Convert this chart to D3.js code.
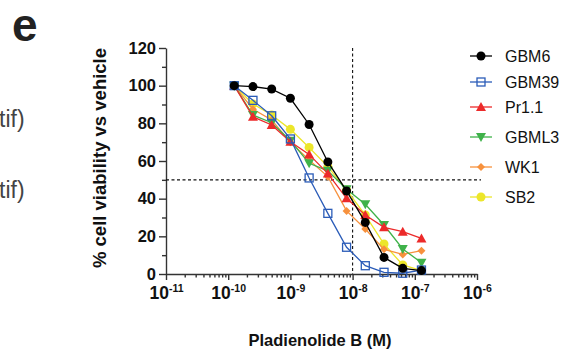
<!DOCTYPE html>
<html>
<head>
<meta charset="UTF-8">
<style>
  body { margin: 0; background: #fff; }
  svg { display: block; font-family: "Liberation Sans", Arial, sans-serif; }
  .axis path, .axis line { stroke: #333; stroke-width: 1.4px; }
  .axis text { fill: #111; font-weight: bold; }
</style>
</head>
<body>
<svg></svg>
<script src="https://cdn.jsdelivr.net/npm/d3@7"></script>
<script>

// doses (M), 2-fold dilution series
const doses = [1.25e-10, 2.5e-10, 5e-10, 1e-9, 2e-9, 4e-9, 8e-9, 1.6e-8, 3.2e-8, 6.4e-8, 1.28e-7];

const gbm6  = [100, 99.5, 98.2, 93.3, 79.4, 59.5, 44.1, 27.4, 8.8, 3.0, 1.8];
const gbm39 = [100, 92.2, 84.0, 71.7, 51.0, 32.2, 14.2, 4.4, 0.9, 0.4, 2.1];
const pr11  = [100, 83.5, 79.1, 70.2, 63.5, 53.3, 40.2, 31.3, 24.8, 22.5, 18.9];
const gbml3 = [100, 84.4, 80.3, 70.8, 58.8, 54.8, 45.0, 37.0, 26.0, 13.3, 6.0];
const wk1   = [100, 87.5, 81.8, 70.0, 60.5, 51.7, 33.5, 23.9, 13.1, 10.4, 12.4];
const sb2   = [100, 90.3, 84.4, 76.8, 67.2, 57.0, 44.6, 31.3, 15.9, 4.8, 1.8];

const seriesNames = ["GBM6", "GBM39", "Pr1.1", "GBML3", "WK1", "SB2"];
const seriesValues = [gbm6, gbm39, pr11, gbml3, wk1, sb2];
const seriesColors = ["#000000", "#2b5cb8", "#ec2a2a", "#3fb24a", "#f7913d", "#ece62a"];
const seriesSymbols = ["circle", "square", "triUp", "triDown", "diamond", "circle"];

const xDecades = [-11, -10, -9, -8, -7, -6];
const yTicks = [0, 20, 40, 60, 80, 100, 120];
const yMinor = [10, 30, 50, 70, 90, 110];
const ic50Line = 50;
const ic50Dose = 1e-8;

const width = 571, height = 354;
const svg = d3.select("svg").attr("width", width).attr("height", height);

const x = d3.scaleLog().domain([1e-11, 1e-6]).range([166, 477]);
const y = d3.scaleLinear().domain([0, 120]).range([274, 48]);

// panel letter + cut-off neighbour text
svg.append("text").attr("x", 12).attr("y", 41)
  .attr("font-size", 46).attr("font-weight", "bold").attr("fill", "#222").text("e");
svg.append("text").attr("x", -1).attr("y", 127)
  .attr("font-size", 23).attr("fill", "#444").text("tif)");
svg.append("text").attr("x", -1).attr("y", 198)
  .attr("font-size", 23).attr("fill", "#444").text("tif)");

// y axis
svg.append("g").attr("class", "axis")
  .attr("transform", "translate(166,0)")
  .call(d3.axisLeft(y).tickValues(yMinor).tickSize(4).tickFormat(""))
  .call(g => g.select(".domain").remove());
svg.append("g").attr("class", "axis")
  .attr("transform", "translate(166,0)")
  .call(d3.axisLeft(y).tickValues(yTicks).tickSize(7).tickSizeOuter(0).tickPadding(3))
  .call(g => g.selectAll("text").attr("font-size", 16.5));

// x axis
const minor = x.ticks().filter(v => Math.abs(Math.log10(v) - Math.round(Math.log10(v))) > 1e-6);
svg.append("g").attr("class", "axis")
  .attr("transform", "translate(0,274)")
  .call(d3.axisBottom(x).tickValues(minor).tickSize(3.5).tickFormat(""))
  .call(g => g.select(".domain").remove());
const xMajor = svg.append("g").attr("class", "axis")
  .attr("transform", "translate(0,274)")
  .call(d3.axisBottom(x).tickValues(xDecades.map(p => Math.pow(10, p))).tickSize(6).tickSizeOuter(0).tickFormat(""));
xMajor.selectAll(".tick").each(function(d) {
  const t = d3.select(this).append("text")
    .attr("y", 25).attr("text-anchor", "middle").attr("font-size", 17.5).attr("fill", "#111");
  t.append("tspan").text("10");
  t.append("tspan").attr("font-size", 10.5).attr("dy", -7.5).text(Math.round(Math.log10(d)));
});

// axis titles
svg.append("text")
  .attr("transform", "translate(106,158) rotate(-90)")
  .attr("text-anchor", "middle").attr("font-size", 18.5).attr("font-weight", "bold").attr("fill", "#111")
  .text("% cell viability vs vehicle");
svg.append("text").attr("x", 320).attr("y", 346)
  .attr("text-anchor", "middle").attr("font-size", 16.5).attr("font-weight", "bold").attr("fill", "#111")
  .text("Pladienolide B (M)");

// reference dashed lines
svg.append("line")
  .attr("x1", x(1e-11)).attr("x2", 481).attr("y1", y(ic50Line)).attr("y2", y(ic50Line))
  .attr("stroke", "#111").attr("stroke-width", 1.1).attr("stroke-dasharray", "3,2.5");
svg.append("line")
  .attr("x1", x(ic50Dose)).attr("x2", x(ic50Dose)).attr("y1", y(120)).attr("y2", y(0))
  .attr("stroke", "#111").attr("stroke-width", 1.1).attr("stroke-dasharray", "3,2.5");

function drawMarker(g, type, color, cx, cy) {
  if (type === "circle") {
    g.append("circle").attr("cx", cx).attr("cy", cy).attr("r", 4.5).attr("fill", color);
  } else if (type === "square") {
    g.append("rect").attr("x", cx - 4).attr("y", cy - 4).attr("width", 8).attr("height", 8)
      .attr("fill", "none").attr("stroke", color).attr("stroke-width", 1.3);
  } else if (type === "triUp") {
    g.append("path").attr("d", `M${cx},${cy - 5}L${cx + 5},${cy + 4}L${cx - 5},${cy + 4}Z`).attr("fill", color);
  } else if (type === "triDown") {
    g.append("path").attr("d", `M${cx},${cy + 5}L${cx + 5},${cy - 4}L${cx - 5},${cy - 4}Z`).attr("fill", color);
  } else if (type === "diamond") {
    g.append("path").attr("d", `M${cx},${cy - 4}L${cx + 4},${cy}L${cx},${cy + 4}L${cx - 4},${cy}Z`).attr("fill", color);
  }
}

const line = d3.line().x((d, i) => x(doses[i])).y(d => y(d));

// draw reversed so GBM6 ends on top
for (let s = seriesNames.length - 1; s >= 0; s--) {
  const g = svg.append("g");
  g.append("path").datum(seriesValues[s]).attr("d", line)
    .attr("fill", "none").attr("stroke", seriesColors[s]).attr("stroke-width", 1.3);
  seriesValues[s].forEach((v, i) => drawMarker(g, seriesSymbols[s], seriesColors[s], x(doses[i]), y(v)));
}

// legend
const legendY = [56, 82, 107, 137, 167, 197];
seriesNames.forEach((name, s) => {
  const g = svg.append("g");
  g.append("line").attr("x1", 470).attr("x2", 492).attr("y1", legendY[s]).attr("y2", legendY[s])
    .attr("stroke", seriesColors[s]).attr("stroke-width", 1.3);
  drawMarker(g, seriesSymbols[s], seriesColors[s], 481, legendY[s]);
  g.append("text").attr("x", 505).attr("y", legendY[s] + 6)
    .attr("font-size", 16).attr("fill", "#111").text(name);
});

</script>
</body>
</html>
